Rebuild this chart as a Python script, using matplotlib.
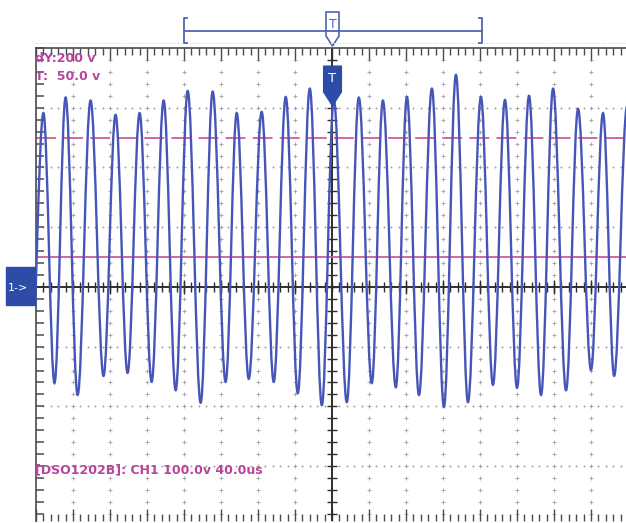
import numpy as np
import matplotlib
matplotlib.use("Agg")
import matplotlib.pyplot as plt
from matplotlib.path import Path
from matplotlib.patches import PathPatch, Polygon, Rectangle

# ---------------- data ----------------
# time in microseconds (trigger at 0), voltage in volts
peak_t = [-312, -288, -261, -234, -208, -182, -156, -129, -103, -76, -50, -24, 2,
          29, 55, 81, 108, 134, 161, 187, 213, 239, 266, 293, 319]
peak_v = [291, 317, 312, 288, 291, 312, 328, 327, 291, 293, 318, 332, 313,
          317, 312, 318, 332, 355, 318, 313, 320, 332, 298, 291, 302]
trough_t = [-326, -300, -275, -247, -221, -195, -169, -142, -115, -90, -63, -37, -11,
            16, 43, 69, 94, 121, 147, 174, 200, 226, 253, 280, 305, 332]
trough_v = [-165, -161, -181, -149, -144, -159, -173, -194, -159, -154, -159, -178, -198,
            -193, -161, -168, -181, -201, -193, -164, -169, -181, -173, -139, -149, -160]

cursor_upper = 250   # V (dashed)
cursor_lower = 50    # V (solid)
time_div = 40        # us / div
volt_div = 100       # V / div
t_range = (-320, 320)
v_range = (-392, 400)

label_dy = "dY:200 v"
label_y = "T:  50.0 v"
label_info = "[DSO1202B]: CH1 100.0v 40.0us"
channel_label = "1->"
trig_label = "T"

# ---------------- figure ----------------
W, H = 626, 523
fig = plt.figure(figsize=(W / 100, H / 100), dpi=100)
fig.patch.set_facecolor("white")

ax_l, ax_r, ax_t, ax_b = 36, 628, 48, 521
ax = fig.add_axes([ax_l / W, (H - ax_b) / H, (ax_r - ax_l) / W, (ax_b - ax_t) / H])
ax.set_xlim(*t_range)
ax.set_ylim(*v_range)
ax.set_facecolor("white")

ax.set_xticks(np.arange(t_range[0], t_range[1] + 1, time_div))
ax.set_xticks(np.arange(t_range[0], t_range[1] + 1, time_div / 5), minor=True)
ax.set_yticks(np.arange(-300, 401, volt_div))
ax.set_yticks(np.arange(-380, 400, volt_div / 5), minor=True)
spine_col = "#4a4a4a"
ax.tick_params(axis="x", which="both", direction="in", top=True, bottom=True,
               labelbottom=False, labeltop=False, color=spine_col, width=1.0)
ax.tick_params(axis="x", which="major", length=8.5)
ax.tick_params(axis="x", which="minor", length=5)
ax.tick_params(axis="y", which="both", direction="in", left=True, right=False,
               labelleft=False, color=spine_col, width=1.1, length=5.5)
for s in ["bottom", "right"]:
    ax.spines[s].set_visible(False)
for s in ["left", "top"]:
    ax.spines[s].set_color(spine_col)
    ax.spines[s].set_linewidth(1.2)

# dotted graticule
grid_col = "#a0a0a0"
major_t = [t for t in np.arange(-280, 281, time_div) if t != 0]
minor_v = np.arange(-380, 400, volt_div / 5)
X, Y = np.meshgrid(major_t, minor_v)
ax.plot(X.ravel(), Y.ravel(), ls="none", marker="+", ms=2.5, mew=0.6, color=grid_col, zorder=1)
major_v = [v for v in np.arange(-300, 301, volt_div) if v != 0]
minor_t = np.arange(-312, 320, time_div / 5)
X, Y = np.meshgrid(minor_t, major_v)
ax.plot(X.ravel(), Y.ravel(), ls="none", marker="o", ms=1.4, mew=0, color=grid_col, zorder=1)

# centre cross
cross_col = "#2e2e2e"
ax.axvline(0, color=cross_col, lw=1.4, zorder=2)
ax.axhline(0, color=cross_col, lw=1.4, zorder=2)
ax.plot(np.zeros(len(minor_v)), minor_v, ls="none", marker="_", ms=7, mew=1.0, color=cross_col, zorder=2)
ax.plot(minor_t, np.zeros(len(minor_t)), ls="none", marker="|", ms=7, mew=1.0, color=cross_col, zorder=2)
ax.plot(major_t, np.zeros(len(major_t)), ls="none", marker="|", ms=10, mew=1.0, color=cross_col, zorder=2)

# cursors
pink = "#d05a9c"
ax.axhline(cursor_upper, color=pink, lw=1.3, ls=(0, (11, 4)), zorder=2.5)
ax.axhline(cursor_lower, color=pink, lw=1.3, zorder=2.5)

# trace through extrema (cubic Bezier half-cycles)
ext = sorted(list(zip(peak_t, peak_v)) + list(zip(trough_t, trough_v)))
k = 1 - 2 / np.pi
verts = [ext[0]]
codes = [Path.MOVETO]
for (t0, v0), (t1, v1) in zip(ext[:-1], ext[1:]):
    dt = t1 - t0
    verts += [(t0 + k * dt, v0), (t1 - k * dt, v1), (t1, v1)]
    codes += [Path.CURVE4] * 3
ax.add_patch(PathPatch(Path(verts, codes), fill=False, ec="#4656b8", lw=1.7, zorder=3))

# ---------------- overlay (pixel coordinates) ----------------
ov = fig.add_axes([0, 0, 1, 1], zorder=5)
ov.set_xlim(0, W)
ov.set_ylim(H, 0)
ov.axis("off")
ov.patch.set_alpha(0)

blue = "#2d4ca8"
line_blue = "#5262b4"
trig_x = 332.5

ov.plot([36, 626], [43, 43], color="#d6d6d6", lw=0.8, ls=":")

# top bracket
ov.plot([184, 482], [31, 31], color=line_blue, lw=1.3)
ov.plot([187, 184, 184, 187], [18, 18, 43, 43], color=line_blue, lw=1.3)
ov.plot([479, 482, 482, 479], [18, 18, 43, 43], color=line_blue, lw=1.3)
ov.add_patch(Polygon([(trig_x - 6.5, 12), (trig_x + 6.5, 12), (trig_x + 6.5, 36),
                      (trig_x, 46), (trig_x - 6.5, 36)], closed=True,
                     fc="white", ec=line_blue, lw=1.2))
ov.text(trig_x, 25, trig_label, color=line_blue, fontsize=9, ha="center", va="center",
        family="DejaVu Sans")

# filled trigger marker
ov.add_patch(Polygon([(trig_x - 9, 66), (trig_x + 9, 66), (trig_x + 9, 92),
                      (trig_x, 106), (trig_x - 9, 92)], closed=True, fc=blue, ec=blue, lw=0.8))
ov.text(trig_x, 79, trig_label, color="white", fontsize=9.5, ha="center", va="center",
        family="DejaVu Sans")

# channel marker
ov.add_patch(Rectangle((6, 267), 29, 38, fc=blue, ec=blue))
ov.text(8, 288, channel_label, color="white", fontsize=8, ha="left", va="center",
        family="DejaVu Sans")

# magenta texts
txt_col = "#b8449c"
ov.text(35, 58, label_dy, color=txt_col, fontsize=9, fontweight="bold", ha="left", va="center",
        family="DejaVu Sans")
ov.text(35, 77, label_y, color=txt_col, fontsize=9, fontweight="bold", ha="left", va="center",
        family="DejaVu Sans")
ov.text(35, 470, label_info, color=txt_col, fontsize=9, fontweight="bold", ha="left", va="center",
        family="DejaVu Sans")

fig.savefig("out.png", dpi=100, facecolor="white")
